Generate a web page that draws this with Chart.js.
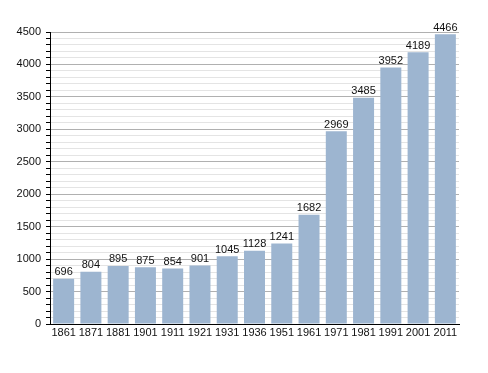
<!DOCTYPE html>
<html><head><meta charset="utf-8">
<script src="https://cdn.jsdelivr.net/npm/chart.js@4"></script>
<style>html,body{margin:0;padding:0;background:#fff}#w{width:488px;height:373px}</style>
</head><body><div id="w"><canvas id="c"></canvas></div>
<script>
const years = ["1861","1871","1881","1901","1911","1921","1931","1936","1951","1961","1971","1981","1991","2001","2011"];
const population = [696,804,895,875,854,901,1045,1128,1241,1682,2969,3485,3952,4189,4466];
const yMax = 4500;
const yMajorStep = 500;
const yMinorStep = 100;

const labelPlugin = {
  id: 'lbl',
  afterDatasetsDraw(chart) {
    const ctx = chart.ctx;
    const meta = chart.getDatasetMeta(0);
    ctx.save();
    ctx.font = '11px "Liberation Sans", Arial, sans-serif';
    ctx.fillStyle = '#111';
    ctx.textAlign = 'center';
    ctx.textBaseline = 'bottom';
    meta.data.forEach((b, i) => {
      ctx.fillText(String(population[i]), b.x, b.y - 1);
    });
    ctx.restore();
  }
};

new Chart(document.getElementById('c'), {
  type: 'bar',
  data: { labels: years, datasets: [{ data: population, backgroundColor: '#9db5d0', borderColor: '#94adc9', borderWidth: 0, categoryPercentage: 1, barPercentage: 0.77 }] },
  options: {
    responsive: true, maintainAspectRatio: false, animation: false,
    layout: { padding: { top: 32, right: 29, left: 0, bottom: 0 } },
    plugins: { legend: { display: false }, tooltip: { enabled: false } },
    scales: {
      x: {
        grid: { display: false, drawTicks: false },
        border: { color: '#000', width: 1 },
        ticks: { color: '#111', font: { size: 11, family: '"Liberation Sans", Arial, sans-serif' }, padding: 2, maxRotation: 0, autoSkip: false },
        afterFit: s => { s.height = 49; }
      },
      y: {
        min: 0, max: yMax,
        ticks: { stepSize: yMinorStep, autoSkip: false, color: '#111', padding: 5,
          font: { size: 11, family: '"Liberation Sans", Arial, sans-serif' },
          callback: v => (v % yMajorStep === 0 ? String(v) : '') },
        grid: {
          color: c => (c.tick && c.tick.value % yMajorStep === 0 ? '#b0b0b0' : '#e4e4e4'),
          tickColor: '#000',
          tickLength: 4,
          lineWidth: 1
        },
        border: { color: '#000', width: 1 },
        afterFit: s => { s.width = 50; }
      }
    }
  },
  plugins: [labelPlugin]
});
</script></body></html>
